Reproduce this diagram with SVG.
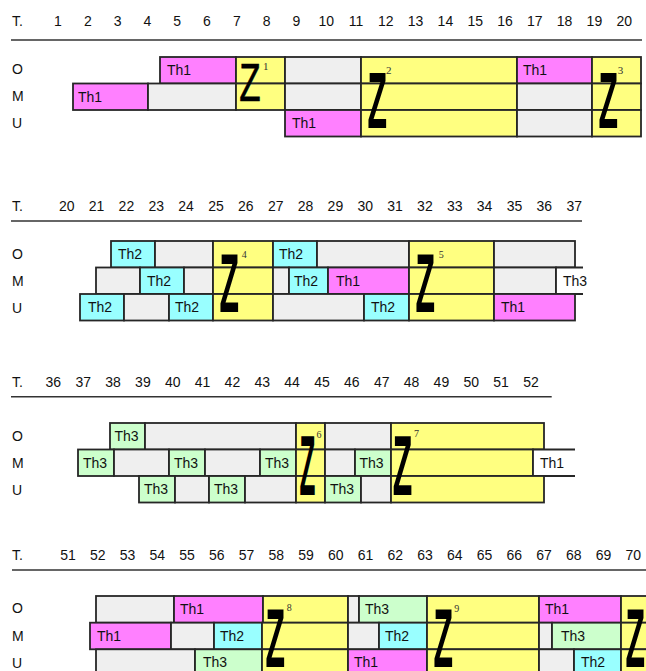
<svg xmlns="http://www.w3.org/2000/svg" width="646" height="671" viewBox="0 0 646 671">
<style>
text{font-family:"Liberation Sans",Arial,sans-serif;font-size:14px;fill:#111}
.b{stroke:#262626;stroke-width:1.8}
.m{fill:#FF80FF}.y{fill:#FFFF80}.g{fill:#EFEFEF}.c{fill:#99FFFF}.n{fill:#CCFFCC}.w{fill:#FFFFFF}
.z{font-weight:bold;font-size:32px;fill:#000}
.z1{font-weight:normal;font-size:35px;fill:#000;stroke:#000;stroke-width:0.4}
.s{font-family:"Liberation Serif","Times New Roman",serif;font-size:10px;fill:#333}
.hl{stroke:#333;stroke-width:1.5;fill:none}
.num text,.num{text-anchor:middle}
</style>
<rect width="646" height="671" fill="#fff"/>
<!-- headers -->
<g id="header1">
<text x="12" y="25.5">T.</text>
<g class="num"><text x="58" y="25.5">1</text><text x="87.8" y="25.5">2</text><text x="117.6" y="25.5">3</text><text x="147.4" y="25.5">4</text><text x="177.2" y="25.5">5</text><text x="207" y="25.5">6</text><text x="236.8" y="25.5">7</text><text x="266.6" y="25.5">8</text><text x="296.4" y="25.5">9</text><text x="326.2" y="25.5">10</text><text x="356" y="25.5">11</text><text x="385.8" y="25.5">12</text><text x="415.6" y="25.5">13</text><text x="445.4" y="25.5">14</text><text x="475.2" y="25.5">15</text><text x="505" y="25.5">16</text><text x="534.8" y="25.5">17</text><text x="564.6" y="25.5">18</text><text x="594.4" y="25.5">19</text><text x="624.2" y="25.5">20</text></g>
<line class="hl" x1="11" y1="40" x2="642" y2="40"/>
<text x="12" y="74">O</text><text x="12" y="101">M</text><text x="12" y="128">U</text>
</g>
<g id="header2">
<text x="12" y="210.5">T.</text>
<g class="num"><text x="66.7" y="210.5">20</text><text x="96.6" y="210.5">21</text><text x="126.4" y="210.5">22</text><text x="156.3" y="210.5">23</text><text x="186.1" y="210.5">24</text><text x="216" y="210.5">25</text><text x="245.8" y="210.5">26</text><text x="275.7" y="210.5">27</text><text x="305.5" y="210.5">28</text><text x="335.4" y="210.5">29</text><text x="365.2" y="210.5">30</text><text x="395.1" y="210.5">31</text><text x="424.9" y="210.5">32</text><text x="454.8" y="210.5">33</text><text x="484.6" y="210.5">34</text><text x="514.5" y="210.5">35</text><text x="544.3" y="210.5">36</text><text x="574.2" y="210.5">37</text></g>
<line class="hl" x1="11" y1="221" x2="582" y2="221"/>
<text x="12" y="258.5">O</text><text x="12" y="285.5">M</text><text x="12" y="313">U</text>
</g>
<g id="header3">
<text x="12" y="387">T.</text>
<g class="num"><text x="53.3" y="387">36</text><text x="83.2" y="387">37</text><text x="113" y="387">38</text><text x="142.9" y="387">39</text><text x="172.7" y="387">40</text><text x="202.6" y="387">41</text><text x="232.4" y="387">42</text><text x="262.3" y="387">43</text><text x="292.1" y="387">44</text><text x="322" y="387">45</text><text x="351.8" y="387">46</text><text x="381.7" y="387">47</text><text x="411.5" y="387">48</text><text x="441.4" y="387">49</text><text x="471.2" y="387">50</text><text x="501.1" y="387">51</text><text x="531" y="387">52</text></g>
<line class="hl" x1="11" y1="396.7" x2="551.7" y2="396.7"/>
<text x="12" y="440.5">O</text><text x="12" y="468">M</text><text x="12" y="495">U</text>
</g>
<g id="header4">
<text x="12" y="560">T.</text>
<g class="num"><text x="68" y="560">51</text><text x="97.8" y="560">52</text><text x="127.5" y="560">53</text><text x="157.3" y="560">54</text><text x="187" y="560">55</text><text x="216.8" y="560">56</text><text x="246.5" y="560">57</text><text x="276.3" y="560">58</text><text x="306" y="560">59</text><text x="335.8" y="560">60</text><text x="365.5" y="560">61</text><text x="395.3" y="560">62</text><text x="425" y="560">63</text><text x="454.8" y="560">64</text><text x="484.5" y="560">65</text><text x="514.3" y="560">66</text><text x="544" y="560">67</text><text x="573.8" y="560">68</text><text x="603.5" y="560">69</text><text x="633.3" y="560">70</text></g>
<line class="hl" x1="12" y1="570" x2="646" y2="570"/>
<text x="12" y="613">O</text><text x="12" y="640.5">M</text><text x="12" y="668">U</text>
</g>

<!-- Section 1 -->
<g id="s1">
<g id="s1-O1"><rect class="b m" x="160" y="57" width="76" height="26.5"/><text x="167" y="75">Th1</text></g>
<g id="s1-O2"><rect class="b y" x="236" y="57" width="49" height="26.5"/></g>
<g id="s1-O3"><rect class="b g" x="285" y="57" width="76" height="26.5"/></g>
<g id="s1-O4"><rect class="b y" x="361" y="57" width="156" height="26.5"/></g>
<g id="s1-O5"><rect class="b m" x="517" y="57" width="75" height="26.5"/><text x="523" y="75">Th1</text></g>
<g id="s1-O6"><rect class="b y" x="592" y="57" width="49" height="26.5"/></g>
<g id="s1-M1"><rect class="b m" x="73" y="83.5" width="75" height="26.5"/><text x="78" y="101.5">Th1</text></g>
<g id="s1-M2"><rect class="b g" x="148" y="83.5" width="88" height="26.5"/></g>
<g id="s1-M3"><rect class="b y" x="236" y="83.5" width="49" height="26.5"/></g>
<g id="s1-M4"><rect class="b g" x="285" y="83.5" width="76" height="26.5"/></g>
<g id="s1-M5"><rect class="b y" x="361" y="83.5" width="156" height="26.5"/></g>
<g id="s1-M6"><rect class="b g" x="517" y="83.5" width="75" height="26.5"/></g>
<g id="s1-M7"><rect class="b y" x="592" y="83.5" width="49" height="26.5"/></g>
<g id="s1-U1"><rect class="b m" x="285" y="110" width="76" height="26.5"/><text x="292" y="128">Th1</text></g>
<g id="s1-U2"><rect class="b y" x="361" y="110" width="156" height="26.5"/></g>
<g id="s1-U3"><rect class="b g" x="517" y="110" width="75" height="26.5"/></g>
<g id="s1-U4"><rect class="b y" x="592" y="110" width="49" height="26.5"/></g>
<g id="z1"><text class="z1" transform="translate(239.2,101) scale(1,1.556)">Z</text><text class="s" x="263" y="70" style="font-size:11px">1</text></g>
<g id="z2"><text class="z" transform="translate(367.4,128) scale(1,2.49)">Z</text><text class="s" x="386" y="74" style="font-size:11px">2</text></g>
<g id="z3"><text class="z" transform="translate(598.4,128) scale(1,2.49)">Z</text><text class="s" x="617.7" y="74" style="font-size:11px">3</text></g>
</g>

<!-- Section 2 -->
<g id="s2">
<g id="s2-O1"><rect class="b c" x="111" y="241" width="44" height="26.5"/><text x="118" y="259">Th2</text></g>
<g id="s2-O2"><rect class="b g" x="155" y="241" width="58" height="26.5"/></g>
<g id="s2-O3"><rect class="b y" x="213" y="241" width="60" height="26.5"/></g>
<g id="s2-O4"><rect class="b c" x="273" y="241" width="44" height="26.5"/><text x="279" y="259">Th2</text></g>
<g id="s2-O5"><rect class="b g" x="317" y="241" width="92" height="26.5"/></g>
<g id="s2-O6"><rect class="b y" x="409" y="241" width="85" height="26.5"/></g>
<g id="s2-O7"><rect class="b g" x="494" y="241" width="81" height="26.5"/></g>
<g id="s2-M1"><rect class="b g" x="96" y="267.5" width="44" height="26.5"/></g>
<g id="s2-M2"><rect class="b c" x="140" y="267.5" width="44" height="26.5"/><text x="147" y="285.5">Th2</text></g>
<g id="s2-M3"><rect class="b g" x="184" y="267.5" width="29" height="26.5"/></g>
<g id="s2-M4"><rect class="b y" x="213" y="267.5" width="60" height="26.5"/></g>
<g id="s2-M5"><rect class="b g" x="273" y="267.5" width="16" height="26.5"/></g>
<g id="s2-M6"><rect class="b c" x="289" y="267.5" width="39" height="26.5"/><text x="294" y="285.5">Th2</text></g>
<g id="s2-M7"><rect class="b m" x="328" y="267.5" width="81" height="26.5"/><text x="336" y="285.5">Th1</text></g>
<g id="s2-M8"><rect class="b y" x="409" y="267.5" width="85" height="26.5"/></g>
<g id="s2-M9"><rect class="b g" x="494" y="267.5" width="62" height="26.5"/></g>
<g id="s2-M10"><rect class="w" x="556" y="267.5" width="27" height="26.5"/><path class="b" fill="none" d="M583,267.5 H556 V294 H583"/><text x="563" y="285.5">Th3</text></g>
<g id="s2-U1"><rect class="b c" x="80" y="294" width="44" height="26.5"/><text x="88" y="312">Th2</text></g>
<g id="s2-U2"><rect class="b g" x="124" y="294" width="45" height="26.5"/></g>
<g id="s2-U3"><rect class="b c" x="169" y="294" width="44" height="26.5"/><text x="175" y="312">Th2</text></g>
<g id="s2-U4"><rect class="b y" x="213" y="294" width="60" height="26.5"/></g>
<g id="s2-U5"><rect class="b g" x="273" y="294" width="91" height="26.5"/></g>
<g id="s2-U6"><rect class="b c" x="364" y="294" width="45" height="26.5"/><text x="371" y="312">Th2</text></g>
<g id="s2-U7"><rect class="b y" x="409" y="294" width="85" height="26.5"/></g>
<g id="s2-U8"><rect class="b m" x="494" y="294" width="81" height="26.5"/><text x="501" y="312">Th1</text></g>
<g id="z4"><text class="z" transform="translate(219.4,311.7) scale(1,2.62)">Z</text><text class="s" x="241.7" y="257.7">4</text></g>
<g id="z5"><text class="z" transform="translate(415.4,311.7) scale(1,2.62)">Z</text><text class="s" x="438.7" y="258">5</text></g>
</g>

<!-- Section 3 -->
<g id="s3">
<g id="s3-O1"><rect class="b n" x="110" y="423" width="35" height="26.5"/><text x="114.5" y="441">Th3</text></g>
<g id="s3-O2"><rect class="b g" x="145" y="423" width="151" height="26.5"/></g>
<g id="s3-O3"><rect class="b y" x="296" y="423" width="29" height="26.5"/></g>
<g id="s3-O4"><rect class="b g" x="325" y="423" width="66" height="26.5"/></g>
<g id="s3-O5"><rect class="b y" x="391" y="423" width="153" height="26.5"/></g>
<g id="s3-M1"><rect class="b n" x="78" y="449.5" width="36" height="26.5"/><text x="83" y="467.5">Th3</text></g>
<g id="s3-M2"><rect class="b g" x="114" y="449.5" width="55" height="26.5"/></g>
<g id="s3-M3"><rect class="b n" x="169" y="449.5" width="36" height="26.5"/><text x="174" y="467.5">Th3</text></g>
<g id="s3-M4"><rect class="b g" x="205" y="449.5" width="55" height="26.5"/></g>
<g id="s3-M5"><rect class="b n" x="260" y="449.5" width="36" height="26.5"/><text x="265" y="467.5">Th3</text></g>
<g id="s3-M6"><rect class="b y" x="296" y="449.5" width="29" height="26.5"/></g>
<g id="s3-M7"><rect class="b g" x="325" y="449.5" width="30" height="26.5"/></g>
<g id="s3-M8"><rect class="b n" x="355" y="449.5" width="36" height="26.5"/><text x="359.5" y="467.5">Th3</text></g>
<g id="s3-M9"><rect class="b y" x="391" y="449.5" width="142" height="26.5"/></g>
<g id="s3-M10"><rect class="w" x="533" y="449.5" width="42" height="26.5"/><path class="b" fill="none" d="M575,449.5 H533 V476 H575"/><text x="540" y="467.5">Th1</text></g>
<g id="s3-U1"><rect class="b n" x="139" y="476" width="36" height="26.5"/><text x="144" y="494">Th3</text></g>
<g id="s3-U2"><rect class="b g" x="175" y="476" width="34" height="26.5"/></g>
<g id="s3-U3"><rect class="b n" x="209" y="476" width="36" height="26.5"/><text x="214" y="494">Th3</text></g>
<g id="s3-U4"><rect class="b g" x="245" y="476" width="51" height="26.5"/></g>
<g id="s3-U5"><rect class="b y" x="296" y="476" width="29" height="26.5"/></g>
<g id="s3-U6"><rect class="b n" x="325" y="476" width="36" height="26.5"/><text x="330" y="494">Th3</text></g>
<g id="s3-U7"><rect class="b g" x="361" y="476" width="30" height="26.5"/></g>
<g id="s3-U8"><rect class="b y" x="391" y="476" width="153" height="26.5"/></g>
<g id="z6"><text class="z" style="font-size:26px" transform="translate(299.5,495) scale(1,3.28)">Z</text><text class="s" x="316.5" y="437.7">6</text></g>
<g id="z7"><text class="z" transform="translate(392.7,495) scale(1,2.66)">Z</text><text class="s" x="414" y="437">7</text></g>
</g>

<!-- Section 4 -->
<g id="s4">
<g id="s4-O1"><rect class="b g" x="96" y="596" width="78" height="26.7"/></g>
<g id="s4-O2"><rect class="b m" x="174" y="596" width="89" height="26.7"/><text x="180" y="614">Th1</text></g>
<g id="s4-O3"><rect class="b y" x="263" y="596" width="85" height="26.7"/></g>
<g id="s4-O4"><rect class="b g" x="348" y="596" width="11" height="26.7"/></g>
<g id="s4-O5"><rect class="b n" x="359" y="596" width="68" height="26.7"/><text x="365" y="614">Th3</text></g>
<g id="s4-O6"><rect class="b y" x="427" y="596" width="112" height="26.7"/></g>
<g id="s4-O7"><rect class="b m" x="539" y="596" width="82" height="26.7"/><text x="545" y="614">Th1</text></g>
<g id="s4-O8"><rect class="b y" x="621" y="596" width="60" height="26.7"/></g>
<g id="s4-M1"><rect class="b m" x="90" y="622.7" width="81" height="26.6"/><text x="97" y="640.7">Th1</text></g>
<g id="s4-M2"><rect class="b g" x="171" y="622.7" width="43" height="26.6"/></g>
<g id="s4-M3"><rect class="b c" x="214" y="622.7" width="48" height="26.6"/><text x="220" y="640.7">Th2</text></g>
<g id="s4-M4"><rect class="b y" x="262" y="622.7" width="86" height="26.6"/></g>
<g id="s4-M5"><rect class="b g" x="348" y="622.7" width="31" height="26.6"/></g>
<g id="s4-M6"><rect class="b c" x="379" y="622.7" width="48" height="26.6"/><text x="385" y="640.7">Th2</text></g>
<g id="s4-M7"><rect class="b y" x="427" y="622.7" width="112" height="26.6"/></g>
<g id="s4-M8"><rect class="b g" x="539" y="622.7" width="13" height="26.6"/></g>
<g id="s4-M9"><rect class="b n" x="552" y="622.7" width="69" height="26.6"/><text x="561" y="640.7">Th3</text></g>
<g id="s4-M10"><rect class="b y" x="621" y="622.7" width="60" height="26.6"/></g>
<g id="s4-U1"><rect class="b g" x="96" y="649.3" width="99" height="26.7"/></g>
<g id="s4-U2"><rect class="b n" x="195" y="649.3" width="67" height="26.7"/><text x="203" y="667.3">Th3</text></g>
<g id="s4-U3"><rect class="b y" x="262" y="649.3" width="86" height="26.7"/></g>
<g id="s4-U4"><rect class="b m" x="348" y="649.3" width="79" height="26.7"/><text x="354" y="667.3">Th1</text></g>
<g id="s4-U5"><rect class="b y" x="427" y="649.3" width="112" height="26.7"/></g>
<g id="s4-U6"><rect class="b g" x="539" y="649.3" width="35" height="26.7"/></g>
<g id="s4-U7"><rect class="b c" x="574" y="649.3" width="47" height="26.7"/><text x="581" y="667.3">Th2</text></g>
<g id="s4-U8"><rect class="b y" x="621" y="649.3" width="60" height="26.7"/></g>
<g id="z8"><text class="z" transform="translate(265.4,667) scale(1,2.63)">Z</text><text class="s" x="286.7" y="610.7">8</text></g>
<g id="z9"><text class="z" transform="translate(433.4,667) scale(1,2.63)">Z</text><text class="s" x="454.3" y="612">9</text></g>
<g id="z10"><text class="z" transform="translate(625.4,667) scale(1,2.63)">Z</text></g>
</g>
</svg>
